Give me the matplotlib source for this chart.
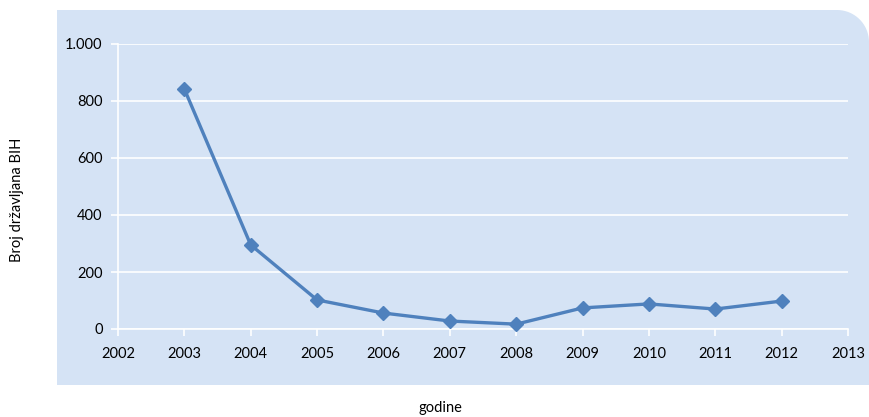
import matplotlib.pyplot as plt
import numpy as np
from matplotlib.patches import Polygon

# podaci procijenjeni sa slike
godine = [2003, 2004, 2005, 2006, 2007, 2008, 2009, 2010, 2011, 2012]
broj = [842, 295, 102, 56, 28, 17, 74, 88, 70, 98]
x_ticks = list(range(2002, 2014))
y_ticks = [0, 200, 400, 600, 800, 1000]
y_labels = ['0', '200', '400', '600', '800', '1.000']

W, H = 869, 417
bg = '#D5E3F5'
line_c = '#4F81BD'

plt.rcParams['font.family'] = ['Lato', 'DejaVu Sans']

fig = plt.figure(figsize=(W / 100, H / 100), dpi=100)
fig.patch.set_facecolor('white')

# pozadina sa zaobljenim gornjim desnim uglom (u pikselima)
x0, y0, x1, y1, r = 57, 10, 869, 385, 32
t = np.linspace(0, np.pi / 2, 20)
arc = np.column_stack([x1 - r + r * np.cos(np.pi / 2 - t), y0 + r - r * np.sin(np.pi / 2 - t)])
pts = np.vstack([[[x0, y0]], [[x1 - r, y0]], arc, [[x1, y1]], [[x0, y1]]])
pts_fig = np.column_stack([pts[:, 0] / W, 1 - pts[:, 1] / H])
fig.patches.append(Polygon(pts_fig, closed=True, transform=fig.transFigure,
                           facecolor=bg, edgecolor='none', zorder=-1))

ax = fig.add_axes([118 / W, 1 - 329 / H, (848 - 118) / W, (329 - 44) / H])
ax.set_facecolor('none')
ax.set_xlim(2002, 2013)
ax.set_ylim(0, 1000)

ax.plot(godine, broj, color=line_c, lw=2.4, marker='D', markersize=7,
        clip_on=False, zorder=3)

ax.set_xticks(x_ticks)
ax.set_yticks(y_ticks)
ax.set_yticklabels(y_labels)
ax.grid(axis='y', color='white', lw=1.2)
ax.set_axisbelow(True)
for s in ['top', 'right']:
    ax.spines[s].set_visible(False)
for s in ['left', 'bottom']:
    ax.spines[s].set_color('white')
    ax.spines[s].set_linewidth(1.2)
ax.tick_params(axis='both', colors='white', width=1.2, length=5, labelcolor='black',
               labelsize=10.5)
ax.tick_params(axis='x', pad=8)
ax.tick_params(axis='y', pad=6)

fig.text(17 / W, 1 - 200 / H, 'Broj državljana BIH', rotation=90, ha='center',
         va='center', fontsize=10.5)
fig.text(440 / W, 1 - 408 / H, 'godine', ha='center', va='center', fontsize=10.5)

fig.savefig('out.png', dpi=100, facecolor='white')
